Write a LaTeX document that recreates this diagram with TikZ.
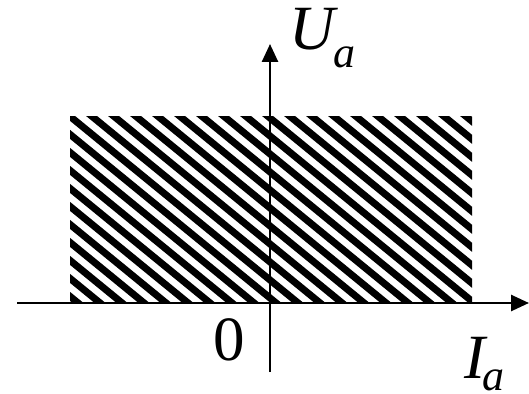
\documentclass[tikz,border=0pt]{standalone}
\usepackage{fontspec}
\setmainfont{Liberation Serif}
\usetikzlibrary{arrows.meta}
\tikzset{
  axis/.style={line width=2.6pt,-{Triangle[length=18pt,width=16pt]}},
  hatchline/.style={line width=7pt,black},
  lbl/.style={inner sep=0pt,anchor=base west,font=\fontsize{63}{66}\selectfont},
  sublbl/.style={font=\fontsize{44}{46}\selectfont}
}
\begin{document}
\begin{tikzpicture}[x=1pt,y=-1pt]
\useasboundingbox (0,0) rectangle (529,393);
% hatched region
\coordinate (r1) at (70,116);
\coordinate (r2) at (472,302);
\begin{scope}
  \clip (r1) rectangle (r2);
  \foreach \k in {-12,...,20} {
    \draw[hatchline] ({72+22*\k},100) -- ({72+22*\k+22*14},{100+18*14});
  }
\end{scope}
% axes
\coordinate (xs) at (17,303);
\coordinate (xe) at (529,303);
\coordinate (ys) at (270,372);
\coordinate (ye) at (270,44);
\draw[axis] (xs) -- (xe);
\draw[axis] (ys) -- (ye);
% labels
\node[lbl] (u) at (289,50) {\itshape U\kern-1pt\raisebox{-18pt}{\fontsize{44}{46}\selectfont a}};
\node[lbl] (i) at (464,378) {\itshape I\kern-3pt\raisebox{-12pt}{\fontsize{44}{46}\selectfont a}};
\node[lbl] (o) at (213,360) {0};
\end{tikzpicture}
\end{document}
